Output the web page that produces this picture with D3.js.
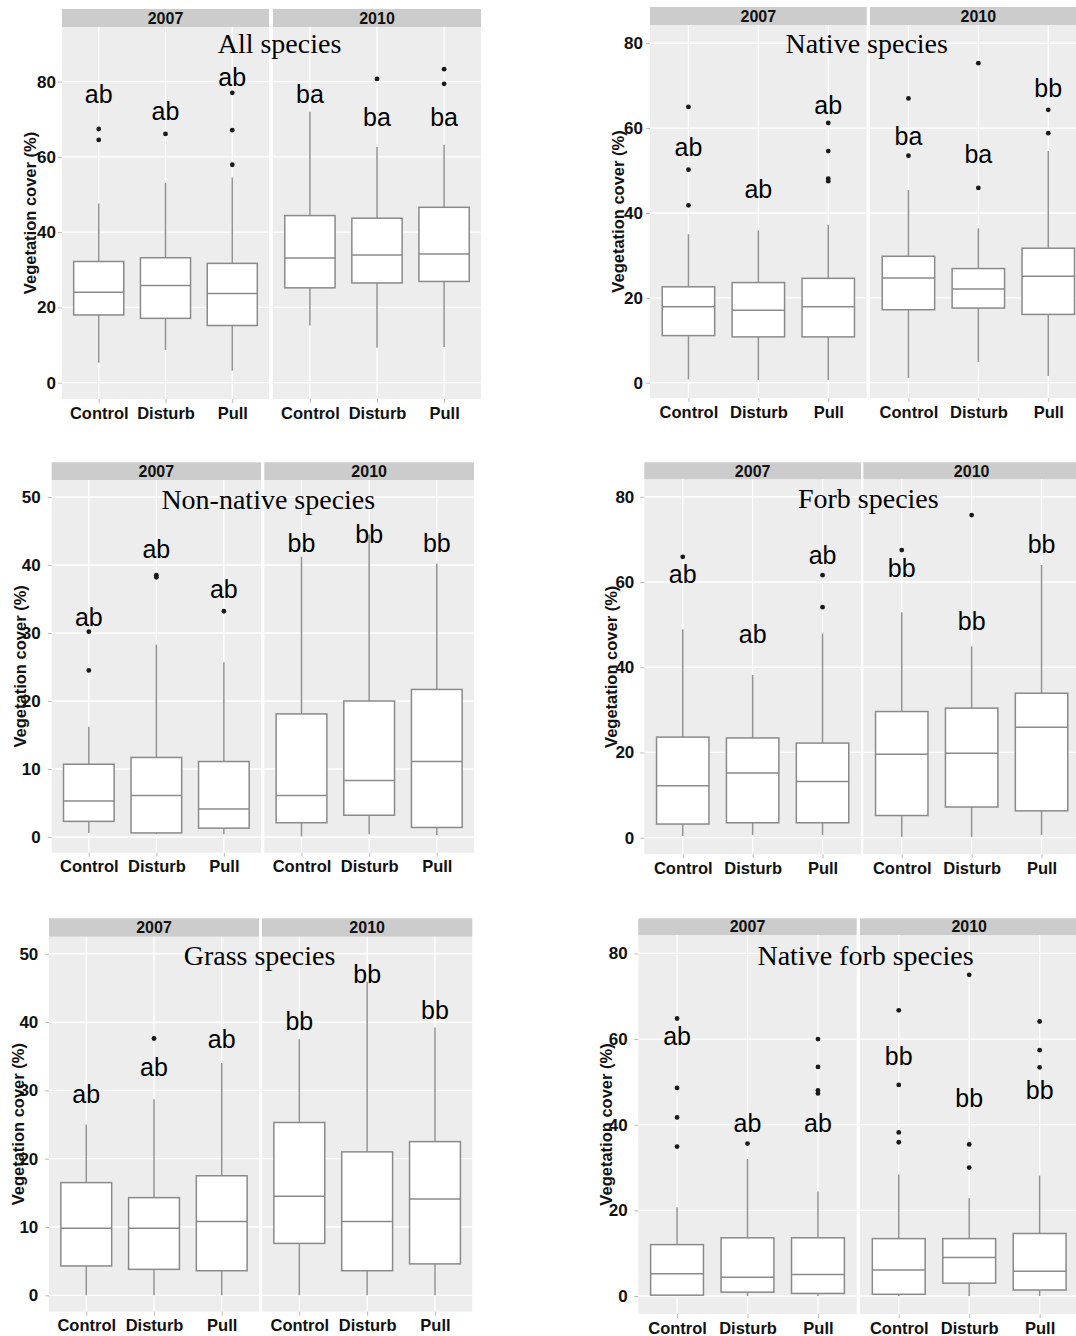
<!DOCTYPE html>
<html>
<head>
<meta charset="utf-8">
<script src="https://cdn.jsdelivr.net/npm/d3@7"></script>
<style>
  body { margin: 0; background: #fff; }
  svg { display: block; }
</style>
</head>
<body>
<div id="chart"></div>
<script>
// categories
const treatments = ['Control', 'Disturb', 'Pull']
const years = ['2007', '2010']
const ticks80 = [0, 20, 40, 60, 80]
const ticks50 = [0, 10, 20, 30, 40, 50]

// box stats per group: [whiskerLow, q1, median, q3, whiskerHigh]
// order: 2007 Control, Disturb, Pull, 2010 Control, Disturb, Pull
const allStats = [
  [5.3, 18.0, 24.0, 32.2, 47.6],
  [8.7, 17.1, 25.8, 33.2, 53.1],
  [3.2, 15.2, 23.7, 31.7, 54.5],
  [15.2, 25.2, 33.1, 44.4, 72.0],
  [9.3, 26.5, 33.9, 43.7, 62.6],
  [9.5, 26.9, 34.2, 46.6, 63.2]
]
const allOut = [[67.4, 64.5], [66.1], [57.9, 67.1, 77.0], [], [80.7], [83.3, 79.4]]
const allLetters = ['ab', 'ab', 'ab', 'ba', 'ba', 'ba']
const allLetterY = [74.3, 69.9, 78.8, 74.3, 68.1, 68.1]

const nativeStats = [
  [0.8, 11.1, 17.9, 22.6, 35.0],
  [0.6, 10.8, 17.1, 23.6, 35.9],
  [0.6, 10.8, 17.9, 24.6, 37.2],
  [1.1, 17.2, 24.7, 29.8, 45.4],
  [4.9, 17.6, 22.1, 26.9, 36.4],
  [1.6, 16.1, 25.1, 31.7, 54.6]
]
const nativeOut = [[65.0, 50.2, 41.8], [], [61.2, 54.6, 48.1, 47.5], [67.0, 53.5], [45.9, 75.3], [64.3, 58.8]]
const nativeLetters = ['ab', 'ab', 'ab', 'ba', 'ba', 'bb']
const nativeLetterY = [53.4, 43.5, 63.4, 56.0, 51.7, 67.3]

const nonNativeStats = [
  [0.6, 2.3, 5.3, 10.7, 16.2],
  [0.4, 0.6, 6.1, 11.7, 28.3],
  [0.4, 1.3, 4.1, 11.1, 25.7],
  [0.1, 2.1, 6.1, 18.1, 41.2],
  [0.4, 3.2, 8.3, 20.0, 44.5],
  [0.3, 1.4, 11.1, 21.7, 40.2]
]
const nonNativeOut = [[30.2, 24.5], [38.5, 38.2], [33.2], [], [], []]
const nonNativeLetters = ['ab', 'ab', 'ab', 'bb', 'bb', 'bb']
const nonNativeLetterY = [31.1, 41.0, 35.1, 41.9, 43.2, 41.9]

const forbStats = [
  [0.4, 3.2, 12.2, 23.6, 48.9],
  [0.6, 3.5, 15.2, 23.4, 38.2],
  [0.6, 3.5, 13.2, 22.2, 47.9],
  [0.2, 5.2, 19.6, 29.6, 52.9],
  [0.2, 7.2, 19.8, 30.4, 44.9],
  [0.6, 6.3, 25.9, 33.9, 64.0]
]
const forbOut = [[65.9], [], [61.6, 54.1], [67.5], [75.7], []]
const forbLetters = ['ab', 'ab', 'ab', 'bb', 'bb', 'bb']
const forbLetterY = [59.7, 45.8, 64.3, 61.1, 48.8, 66.8]

const grassStats = [
  [0, 4.3, 9.8, 16.5, 25.0],
  [0, 3.8, 9.8, 14.3, 28.7],
  [0, 3.6, 10.8, 17.5, 34.0],
  [0, 7.6, 14.5, 25.3, 37.5],
  [0, 3.6, 10.8, 21.0, 45.9],
  [0, 4.6, 14.1, 22.5, 39.2]
]
const grassOut = [[], [37.6], [], [], [], []]
const grassLetters = ['ab', 'ab', 'ab', 'bb', 'bb', 'bb']
const grassLetterY = [28.2, 32.1, 36.2, 38.9, 45.7, 40.5]

const nativeForbStats = [
  [0, 0.2, 5.2, 12.0, 20.7],
  [0, 0.9, 4.4, 13.6, 32.0],
  [0, 0.6, 5.0, 13.6, 24.4],
  [0, 0.4, 6.1, 13.4, 28.4],
  [0, 3.0, 9.0, 13.4, 22.8],
  [0, 1.4, 5.8, 14.6, 28.1]
]
const nativeForbOut = [[64.8, 48.6, 41.7, 34.9], [35.6], [60.0, 53.5, 48.0, 47.3], [66.7, 49.3, 38.2, 35.9], [75.0, 35.4, 30.0], [64.1, 57.4, 53.4]]
const nativeForbLetters = ['ab', 'ab', 'ab', 'bb', 'bb', 'bb']
const nativeForbLetterY = [58.6, 38.4, 38.4, 53.9, 44.2, 46.1]

// panel layout (pixel positions on the page)
const panels = [
  { title: 'All species', stats: allStats, out: allOut, letters: allLetters, letterY: allLetterY, ticks: ticks80,
    f07: [62, 269], f10: [273, 481], strip: 9, top: 27, bottom: 399, dom: [-4.33, 94.5], tx: 279.5, ty: 53, ax: 30, gap: 6 },
  { title: 'Native species', stats: nativeStats, out: nativeOut, letters: nativeLetters, letterY: nativeLetterY, ticks: ticks80,
    f07: [650, 866.7], f10: [870, 1086.7], strip: 7, top: 25, bottom: 398, dom: [-3.6, 84.3], tx: 866.7, ty: 53, ax: 618, gap: 7 },
  { title: 'Non-native species', stats: nonNativeStats, out: nonNativeOut, letters: nonNativeLetters, letterY: nonNativeLetterY, ticks: ticks50,
    f07: [51.7, 261], f10: [264.3, 474], strip: 462.3, top: 480, bottom: 852.7, dom: [-2.31, 52.5], tx: 268.3, ty: 509, ax: 20.7, gap: 11 },
  { title: 'Forb species', stats: forbStats, out: forbOut, letters: forbLetters, letterY: forbLetterY, ticks: ticks80,
    f07: [644.3, 861], f10: [863.3, 1080], strip: 462.3, top: 479.3, bottom: 854.3, dom: [-3.9, 84.1], tx: 868.3, ty: 508, ax: 611.7, gap: 10 },
  { title: 'Grass species', stats: grassStats, out: grassOut, letters: grassLetters, letterY: grassLetterY, ticks: ticks50,
    f07: [49, 259], f10: [262, 472.3], strip: 918.3, top: 936.7, bottom: 1311.7, dom: [-2.4, 52.5], tx: 259.5, ty: 965, ax: 18.3, gap: 10.7 },
  { title: 'Native forb species', stats: nativeForbStats, out: nativeForbOut, letters: nativeForbLetters, letterY: nativeForbLetterY, ticks: ticks80,
    f07: [638.3, 856.7], f10: [860, 1078.4], strip: 918.3, top: 935, bottom: 1314, dom: [-4.2, 84.3], tx: 865.5, ty: 965, ax: 606, gap: 10.6 }
]

const sans = "'Liberation Sans', Arial, sans-serif"
const serif = "'Liberation Serif', 'Times New Roman', serif"

const svg = d3.select('#chart').append('svg')
  .attr('width', 1076)
  .attr('height', 1336)

panels.forEach(p => {
  const g = svg.append('g')
  const y = d3.scaleLinear().domain(p.dom).range([p.bottom, p.top])

  years.forEach((yr, fi) => {
    const fr = fi === 0 ? p.f07 : p.f10
    const x = d3.scalePoint().domain(treatments).range(fr).padding(0.55)
    const bw = x.step() * 0.75
    const fg = g.append('g')

    // panel background + strip
    fg.append('rect')
      .attr('x', fr[0]).attr('y', p.top)
      .attr('width', fr[1] - fr[0]).attr('height', p.bottom - p.top)
      .style('fill', '#ededed')
    fg.append('rect')
      .attr('x', fr[0]).attr('y', p.strip)
      .attr('width', fr[1] - fr[0]).attr('height', p.top - p.strip)
      .style('fill', '#cccccc')
    fg.append('text')
      .attr('x', (fr[0] + fr[1]) / 2).attr('y', (p.strip + p.top) / 2)
      .attr('dy', '0.36em')
      .attr('text-anchor', 'middle')
      .style('font', `bold 16px ${sans}`)
      .style('fill', '#111')
      .text(yr)

    // grid
    fg.selectAll('.hg').data(p.ticks).enter().append('line')
      .attr('x1', fr[0]).attr('x2', fr[1])
      .attr('y1', d => y(d)).attr('y2', d => y(d))
      .style('stroke', '#fff').style('stroke-width', 1.3)
    fg.selectAll('.vg').data(treatments).enter().append('line')
      .attr('x1', d => x(d)).attr('x2', d => x(d))
      .attr('y1', p.top).attr('y2', p.bottom)
      .style('stroke', '#fff').style('stroke-width', 1.3)

    // x axis
    const axX = fg.append('g')
      .attr('transform', `translate(0,${p.bottom})`)
      .call(d3.axisBottom(x).tickSize(4).tickPadding(4))
    axX.select('.domain').remove()
    axX.selectAll('line').style('stroke', '#bbbbbb')
    axX.selectAll('text')
      .style('font', `bold 16.5px ${sans}`)
      .style('fill', '#111')

    // y axis on first facet only
    if (fi === 0) {
      const axY = fg.append('g')
        .attr('transform', `translate(${fr[0]},0)`)
        .call(d3.axisLeft(y).tickValues(p.ticks).tickSize(4).tickPadding(p.gap - 4))
      axY.select('.domain').remove()
      axY.selectAll('line').style('stroke', '#bbbbbb')
      axY.selectAll('text')
        .style('font', `bold 17px ${sans}`)
        .style('fill', '#111')
    }

    const rows = treatments.map((t, i) => ({ t, s: p.stats[fi * 3 + i], o: p.out[fi * 3 + i] }))

    const box = fg.selectAll('.box').data(rows).enter().append('g')
    box.append('line')
      .attr('x1', d => x(d.t)).attr('x2', d => x(d.t))
      .attr('y1', d => y(d.s[4])).attr('y2', d => y(d.s[3]))
      .style('stroke', '#939393').style('stroke-width', 1.5)
    box.append('line')
      .attr('x1', d => x(d.t)).attr('x2', d => x(d.t))
      .attr('y1', d => y(d.s[1])).attr('y2', d => y(d.s[0]))
      .style('stroke', '#939393').style('stroke-width', 1.5)
    box.append('rect')
      .attr('x', d => x(d.t) - bw / 2)
      .attr('width', bw)
      .attr('y', d => y(d.s[3]))
      .attr('height', d => y(d.s[1]) - y(d.s[3]))
      .style('fill', '#fff')
      .style('stroke', '#8a8a8a').style('stroke-width', 1.5)
    box.append('line')
      .attr('x1', d => x(d.t) - bw / 2).attr('x2', d => x(d.t) + bw / 2)
      .attr('y1', d => y(d.s[2])).attr('y2', d => y(d.s[2]))
      .style('stroke', '#8a8a8a').style('stroke-width', 1.5)
    box.each(function (d) {
      d3.select(this).selectAll('circle').data(d.o).enter().append('circle')
        .attr('cx', x(d.t)).attr('cy', v => y(v)).attr('r', 2.4)
        .style('fill', '#1a1a1a')
    })

    // significance letters
    fg.selectAll('.let').data(treatments).enter().append('text')
      .attr('x', d => x(d))
      .attr('y', (d, i) => y(p.letterY[fi * 3 + i]))
      .attr('text-anchor', 'middle')
      .style('font', `25px ${sans}`)
      .style('fill', '#000')
      .text((d, i) => p.letters[fi * 3 + i])
  })

  // y axis title
  g.append('text')
    .attr('transform', `translate(${p.ax},${(p.top + p.bottom) / 2}) rotate(-90)`)
    .attr('dy', '0.35em')
    .attr('text-anchor', 'middle')
    .style('font', `bold 16.5px ${sans}`)
    .style('fill', '#111')
    .text('Vegetation cover (%)')

  // panel title
  g.append('text')
    .attr('x', p.tx).attr('y', p.ty)
    .attr('text-anchor', 'middle')
    .style('font', `28px ${serif}`)
    .style('fill', '#000')
    .text(p.title)
})
</script>
</body>
</html>
